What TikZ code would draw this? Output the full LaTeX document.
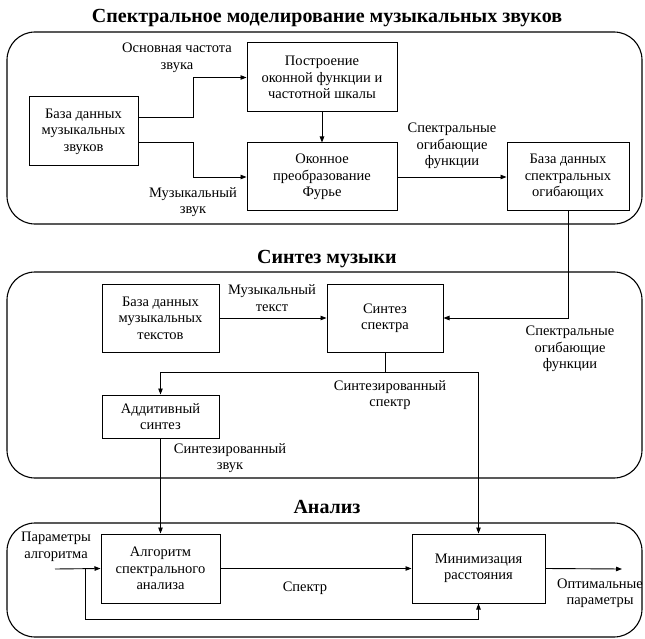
\documentclass[tikz,border=0pt]{standalone}
\usepackage{fontspec}
\setmainfont{Liberation Serif}
\usetikzlibrary{arrows.meta}
\begin{document}
\begin{tikzpicture}[x=1pt,y=-1pt,
  every node/.style={font=\fontsize{14.5}{16.5}\selectfont, inner sep=0pt},
  blk/.style={draw, line width=1pt, align=center},
  sect/.style={draw, line width=1.1pt, rounded corners=28pt, minimum width=635pt},
  ttl/.style={font=\fontsize{20}{24}\selectfont\bfseries, anchor=base},
  lbl/.style={align=center},
  arr/.style={line width=0.9pt, -{Triangle[length=6pt,width=4.5pt]}},
  ln/.style={line width=0.9pt}]
\useasboundingbox (0,0) rectangle (645,639);
% sections
\node[sect, minimum height=192pt] (sec1) at (324.5,128) {};
\node[sect, minimum height=206pt] (sec2) at (324.5,375) {};
\node[sect, minimum height=114pt] (sec3) at (324.5,580) {};
\node[ttl] (t1) at (327,23) {Спектральное моделирование музыкальных звуков};
\node[ttl] (t2) at (327,263) {Синтез музыки};
\node[ttl] (t3) at (327,513) {Анализ};
% blocks
\node[blk, minimum width=109pt, minimum height=69pt] (dbs) at (83.5,131.5) {База данных\\музыкальных\\звуков};
\node[blk, minimum width=150pt, minimum height=69pt] (build) at (322,77.5) {Построение\\оконной функции и\\частотной шкалы};
\node[blk, minimum width=150pt, minimum height=68pt] (fourier) at (322,177) {Оконное\\преобразование\\Фурье};
\node[blk, minimum width=122pt, minimum height=68pt] (specdb) at (568,177) {База данных\\спектральных\\огибающих};
\node[blk, minimum width=117pt, minimum height=68pt] (dbt) at (160.5,318) {База данных\\музыкальных\\текстов};
\node[blk, minimum width=116pt, minimum height=68pt] (synsp) at (385,318) {Синтез\\спектра};
\node[blk, minimum width=117pt, minimum height=43pt] (add) at (160.5,416.5) {Аддитивный\\синтез};
\node[blk, minimum width=119pt, minimum height=69pt] (alg) at (160.5,568.5) {Алгоритм\\спектрального\\анализа};
\node[blk, minimum width=133pt, minimum height=69pt] (min) at (478.5,568.5) {Минимизация\\расстояния};
% labels
\node[lbl] (l1) at (177,58) {Основная частота\\звука};
\node[lbl] (l2) at (193,202) {Музыкальный\\звук};
\node[lbl] (l3) at (452,146) {Спектральные\\огибающие\\функции};
\node[lbl] (l4) at (272,298) {Музыкальный\\текст};
\node[lbl] (l5) at (570,349) {Спектральные\\огибающие\\функции};
\node[lbl] (l6) at (390,395) {Синтезированный\\спектр};
\node[lbl] (l7) at (230,458) {Синтезированный\\звук};
\node[lbl] (l8) at (56,547) {Параметры\\алгоритма};
\node[lbl] (l9) at (305,588) {Спектр};
\node[lbl] (l10) at (600,593) {Оптимальные\\параметры};
% connectors
\coordinate (a1) at (193,117);
\coordinate (a2) at (193,142);
\draw[arr] (dbs.east |- a1) -- (a1) |- (build.west);
\draw[arr] (dbs.east |- a2) -- (a2) |- (fourier.west);
\draw[arr] (build.south) -- (fourier.north);
\draw[arr] (fourier.east) -- (specdb.west);
\draw[arr] (specdb.south) |- (synsp.east);
\draw[arr] (dbt.east) -- (synsp.west);
\coordinate (s1) at (385,372);
\draw[ln] (synsp.south) -- (s1);
\draw[arr] (s1) -| (add.north);
\draw[arr] (s1) -| (min.north);
\draw[arr] (add.south) -- (alg.north);
\draw[arr] (alg.east) -- (min.west);
\coordinate (in) at (55,569);
\coordinate (br) at (85,569);
\coordinate (b2) at (85,619);
\coordinate (out) at (622,569);
\draw[arr] (in) -- (alg.west);
\draw[arr] (br) -- (b2) -| (min.south);
\draw[arr] (min.east) -- (out);
\end{tikzpicture}
\end{document}
